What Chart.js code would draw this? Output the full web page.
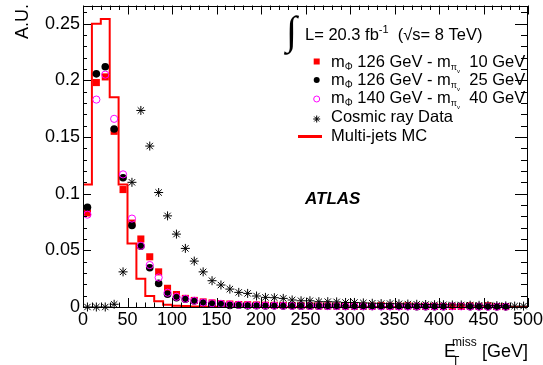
<!DOCTYPE html>
<html>
<head>
<meta charset="utf-8">
<script src="https://cdn.jsdelivr.net/npm/chart.js@4"></script>
<style>
  html, body { margin: 0; padding: 0; background: #fff; }
</style>
</head>
<body>
<canvas id="met" width="543" height="365"></canvas>
<script>
// bin centres [GeV]
var binCenters = [5, 15, 25, 35, 45, 55, 65, 75, 85, 95,
  105, 115, 125, 135, 145, 155, 165, 175, 185, 195,
  205, 215, 225, 235, 245, 255, 265, 275, 285, 295,
  305, 315, 325, 335, 345, 355, 365, 375, 385, 395,
  405, 415, 425, 435, 445, 455, 465, 475, 485, 495];

// m_phi 126 GeV - m_piv 10 GeV
var sig126_10 = [0.083, 0.198, 0.203, 0.155, 0.1036, 0.074, 0.060, 0.0443, 0.031, 0.0165,
  0.011, 0.0076, 0.0058, 0.0045, 0.0036, 0.003, 0.0026, 0.0022, 0.002, 0.0018,
  0.0016, 0.0015, 0.0014, 0.0013, 0.0012, 0.0011, 0.001, 0.001, 0.0009, 0.0009,
  0.0008, 0.0008, 0.0008, 0.0012, 0.0007, 0.0007, 0.0011, 0.0006, 0.0006, 0.0006,
  0.0005, 0.0005, 0.0005, 0.001, 0.0005, 0.0011, 0.0004, 0.0004, null, null];

// m_phi 126 GeV - m_piv 25 GeV
var sig126_25 = [0.088, 0.2057, 0.212, 0.157, 0.114, 0.072, 0.0537, 0.0346, 0.0208, 0.0112,
  0.0082, 0.0068, 0.0053, 0.0038, 0.0026, 0.0024, 0.0014, 0.0016, 0.001, 0.0012,
  0.0009, 0.001, 0.0008, 0.0008, 0.0007, 0.0007, 0.0006, 0.0006, 0.0006, 0.0005,
  0.0005, 0.0005, 0.0004, 0.0004, 0.0004, 0.0004, 0.0005, 0.0003, 0.0003, 0.0003,
  0.0003, null, null, 0.0003, 0.0003, 0.0002, 0.0002, 0.0002, null, null];

// m_phi 140 GeV - m_piv 40 GeV
var sig140_40 = [0.0815, 0.183, 0.205, 0.166, 0.117, 0.078, 0.054, 0.037, 0.026, 0.0126,
  0.009, 0.0072, 0.0055, 0.004, 0.0033, 0.0028, 0.0022, 0.0019, 0.0016, 0.0014,
  0.0013, 0.0012, 0.0011, 0.001, 0.001, 0.0009, 0.0009, 0.0008, 0.0008, 0.0007,
  0.0007, 0.0007, 0.0006, 0.0006, 0.0006, 0.0005, 0.0005, 0.0005, 0.0005, 0.0004,
  0.0004, 0.0006, 0.0006, 0.0004, 0.0004, 0.0003, 0.0003, 0.0003, null, null];

// cosmic ray data
var cosmic = [0, 0, 0, 0.0024, 0.031, 0.110, 0.1734, 0.142, 0.101, 0.0804,
  0.0643, 0.0517, 0.0405, 0.031, 0.0232, 0.0194, 0.0158, 0.0129, 0.012, 0.0097,
  0.0085, 0.0082, 0.0076, 0.0062, 0.0055, 0.0055, 0.0047, 0.0047, 0.0045, 0.004,
  0.004, 0.0036, 0.0033, 0.003, 0.003, 0.0028, 0.0026, 0.0024, 0.0022, 0.002,
  0.002, 0.0018, 0.0018, 0.0016, 0.0015, 0.0014, 0.0012, 0.001, 0.0008, 0.0008];

// multi-jets MC histogram, bin low edges and contents
var mcEdges = [0, 10, 20, 30, 40, 50, 60, 70, 80, 90,
  100, 110, 120, 130, 140, 150, 160, 170, 180, 190,
  200, 210, 220, 230, 240, 250, 260, 270, 280, 290,
  300, 310, 320, 330, 340, 350, 360, 370, 380, 390,
  400, 410, 420, 430, 440, 450, 460, 470, 480, 490, 500];
var mcContent = [0.108, 0.250, 0.254, 0.185, 0.108, 0.056, 0.025, 0.0097, 0.005, 0.002,
  0.0012, 0.0008, 0.0005, 0.0003, 0.0002, 0.0001, 0, 0, 0, 0,
  0, 0, 0, 0, 0, 0, 0, 0, 0, 0,
  0, 0, 0, 0, 0, 0, 0, 0, 0, 0,
  0, 0, 0, 0, 0, 0, 0, 0, 0, 0];

var yTicks = [0, 0.05, 0.1, 0.15, 0.2, 0.25];
var xTicks = [0, 50, 100, 150, 200, 250, 300, 350, 400, 450, 500];

var ff = '"Liberation Sans", Arial, sans-serif';

function pts(ys) {
  return binCenters.map(function (x, i) { return { x: x, y: ys[i] }; });
}

function rich(ctx, x, y, parts) {
  parts.forEach(function (p) {
    ctx.font = (p.w || '') + ' ' + p.s + 'px ' + ff;
    ctx.fillText(p.t, x, y + (p.dy || 0));
    x += ctx.measureText(p.t).width;
  });
  return x;
}

var decor = {
  id: 'decor',
  afterDraw: function (chart) {
    var ctx = chart.ctx, a = chart.chartArea;
    var xs = chart.scales.x, ys = chart.scales.y;
    ctx.save();
    ctx.strokeStyle = '#000';
    ctx.fillStyle = '#000';
    ctx.lineWidth = 1;
    // frame
    ctx.strokeRect(Math.round(a.left) + 0.5, Math.round(a.top) + 0.5,
      Math.round(a.right - a.left) - 1, Math.round(a.bottom - a.top) - 1);
    ctx.beginPath();
    // y ticks (left and right)
    for (var k = 0; k <= 26; k++) {
      var py = Math.round(ys.getPixelForValue(k / 100)) + 0.5;
      var major = k % 5 === 0;
      ctx.moveTo(a.left, py); ctx.lineTo(a.left + (major ? 8 : 4), py);
      ctx.moveTo(a.right, py); ctx.lineTo(a.right - (major ? 13 : 7), py);
    }
    // x ticks (bottom and top)
    for (var j = 0; j <= 50; j++) {
      var px = Math.round(xs.getPixelForValue(j * 10)) + 0.5;
      var mj = j % 5 === 0;
      ctx.moveTo(px, a.bottom); ctx.lineTo(px, a.bottom - (mj ? 9 : 4.5));
      ctx.moveTo(px, a.top); ctx.lineTo(px, a.top + (mj ? 9 : 4.5));
    }
    ctx.stroke();

    // axis titles
    ctx.textBaseline = 'alphabetic';
    ctx.save();
    ctx.translate(28, 4);
    ctx.rotate(-Math.PI / 2);
    ctx.textAlign = 'right';
    ctx.font = '18px ' + ff;
    ctx.fillText('A.U.', 0, 0);
    ctx.restore();

    ctx.textAlign = 'left';
    ctx.font = '18px ' + ff;
    ctx.fillText('E', 444, 357);
    ctx.font = '12px ' + ff;
    ctx.fillText('T', 452, 365);
    ctx.fillText('miss', 452, 346);
    ctx.textAlign = 'right';
    ctx.font = '18px ' + ff;
    ctx.fillText('[GeV]', 528, 357);
    ctx.textAlign = 'left';

    // ATLAS label
    ctx.font = 'italic bold 17px ' + ff;
    ctx.fillText('ATLAS', 305, 204);

    // luminosity line
    ctx.font = '40px "Liberation Serif", serif';
    ctx.fillText('\u222B', 286, 44);
    var x = rich(ctx, 305, 40, [{ t: 'L= 20.3 fb', s: 16.5 }, { t: '-1', s: 11, dy: -7 }]);
    rich(ctx, x, 40, [{ t: '  (\u221As= 8 TeV)', s: 16.5 }]);

    // legend entries
    var lx = 331;
    var rows = [66.5, 84.5, 103, 122, 140.5];
    var mkx = 316.7;
    ctx.fillStyle = '#ff0000';
    ctx.fillRect(mkx - 3, rows[0] - 8, 6, 6);
    ctx.fillStyle = '#000';
    ctx.beginPath(); ctx.arc(mkx, rows[1] - 4.5, 3, 0, Math.PI * 2); ctx.fill();
    ctx.strokeStyle = '#ff00ff';
    ctx.beginPath(); ctx.arc(mkx, rows[2] - 4, 3, 0, Math.PI * 2); ctx.stroke();
    ctx.strokeStyle = '#000';
    ctx.beginPath();
    for (var r = 0; r < 4; r++) {
      var ang = r * Math.PI / 4;
      ctx.moveTo(mkx - 3.5 * Math.cos(ang), rows[3] - 3 - 3.5 * Math.sin(ang));
      ctx.lineTo(mkx + 3.5 * Math.cos(ang), rows[3] - 3 + 3.5 * Math.sin(ang));
    }
    ctx.stroke();
    ctx.strokeStyle = '#ff0000';
    ctx.lineWidth = 3;
    ctx.beginPath(); ctx.moveTo(298, rows[4] - 4); ctx.lineTo(322, rows[4] - 4); ctx.stroke();

    ctx.fillStyle = '#000';
    var masses = [['126', '10'], ['126', '25'], ['140', '40']];
    masses.forEach(function (m, i) {
      rich(ctx, lx, rows[i], [
        { t: 'm', s: 16.5 }, { t: '\u03A6', s: 10, dy: 3 },
        { t: ' ' + m[0] + ' GeV - m', s: 16.5 }, { t: '\u03C0', s: 9, dy: 3 }, { t: 'v', s: 6, dy: 6 },
        { t: '  ' + m[1] + ' GeV', s: 16.5 }
      ]);
    });
    rich(ctx, lx, rows[3], [{ t: 'Cosmic ray Data', s: 16.5 }]);
    rich(ctx, lx, rows[4], [{ t: 'Multi-jets MC', s: 16.5 }]);
    ctx.restore();
  }
};

new Chart(document.getElementById('met'), {
  type: 'scatter',
  data: {
    datasets: [
      {
        label: 'Multi-jets MC',
        type: 'line',
        data: mcEdges.map(function (x, i) { return { x: x, y: i < mcContent.length ? mcContent[i] : mcContent[i - 1] }; }),
        stepped: 'before',
        borderColor: '#ff0000',
        borderWidth: 2,
        pointRadius: 0,
        fill: false,
        order: 5
      },
      {
        label: 'm126 - m10',
        data: pts(sig126_10),
        pointStyle: 'rect',
        pointRadius: 5,
        backgroundColor: '#ff0000',
        borderColor: '#ff0000',
        borderWidth: 0,
        clip: false,
        order: 4
      },
      {
        label: 'm126 - m25',
        data: pts(sig126_25),
        pointStyle: 'circle',
        pointRadius: 3.8,
        backgroundColor: '#000',
        borderColor: '#000',
        borderWidth: 0,
        clip: false,
        order: 3
      },
      {
        label: 'm140 - m40',
        data: pts(sig140_40),
        pointStyle: 'circle',
        pointRadius: 3.6,
        backgroundColor: 'rgba(0,0,0,0)',
        borderColor: '#ff00ff',
        borderWidth: 1,
        clip: false,
        order: 2
      },
      {
        label: 'Cosmic ray Data',
        data: pts(cosmic),
        pointStyle: 'star',
        pointRadius: 4.5,
        backgroundColor: '#000',
        borderColor: '#000',
        borderWidth: 1,
        clip: false,
        order: 1
      }
    ]
  },
  options: {
    responsive: false,
    animation: false,
    devicePixelRatio: 1,
    layout: { padding: { left: 0, right: 15, top: 5, bottom: 0 } },
    plugins: { legend: { display: false }, tooltip: { enabled: false } },
    scales: {
      x: {
        type: 'linear',
        min: 0,
        max: 500,
        afterBuildTicks: function (s) { s.ticks = xTicks.map(function (v) { return { value: v }; }); },
        afterFit: function (s) { s.height = 58; s.paddingLeft = 0; s.paddingRight = 0; },
        grid: { display: false, drawTicks: false },
        border: { display: false },
        ticks: { padding: 2, color: '#000', font: { family: ff, size: 18 }, maxRotation: 0 }
      },
      y: {
        min: 0,
        max: 0.266,
        afterBuildTicks: function (s) { s.ticks = yTicks.map(function (v) { return { value: v }; }); },
        afterFit: function (s) { s.width = 83; s.paddingTop = 0; s.paddingBottom = 0; },
        grid: { display: false, drawTicks: false },
        border: { display: false },
        ticks: {
          padding: 3, color: '#000', font: { family: ff, size: 18 },
          callback: function (v) { return String(+v.toFixed(2)); }
        }
      }
    }
  },
  plugins: [decor]
});
</script>
</body>
</html>
